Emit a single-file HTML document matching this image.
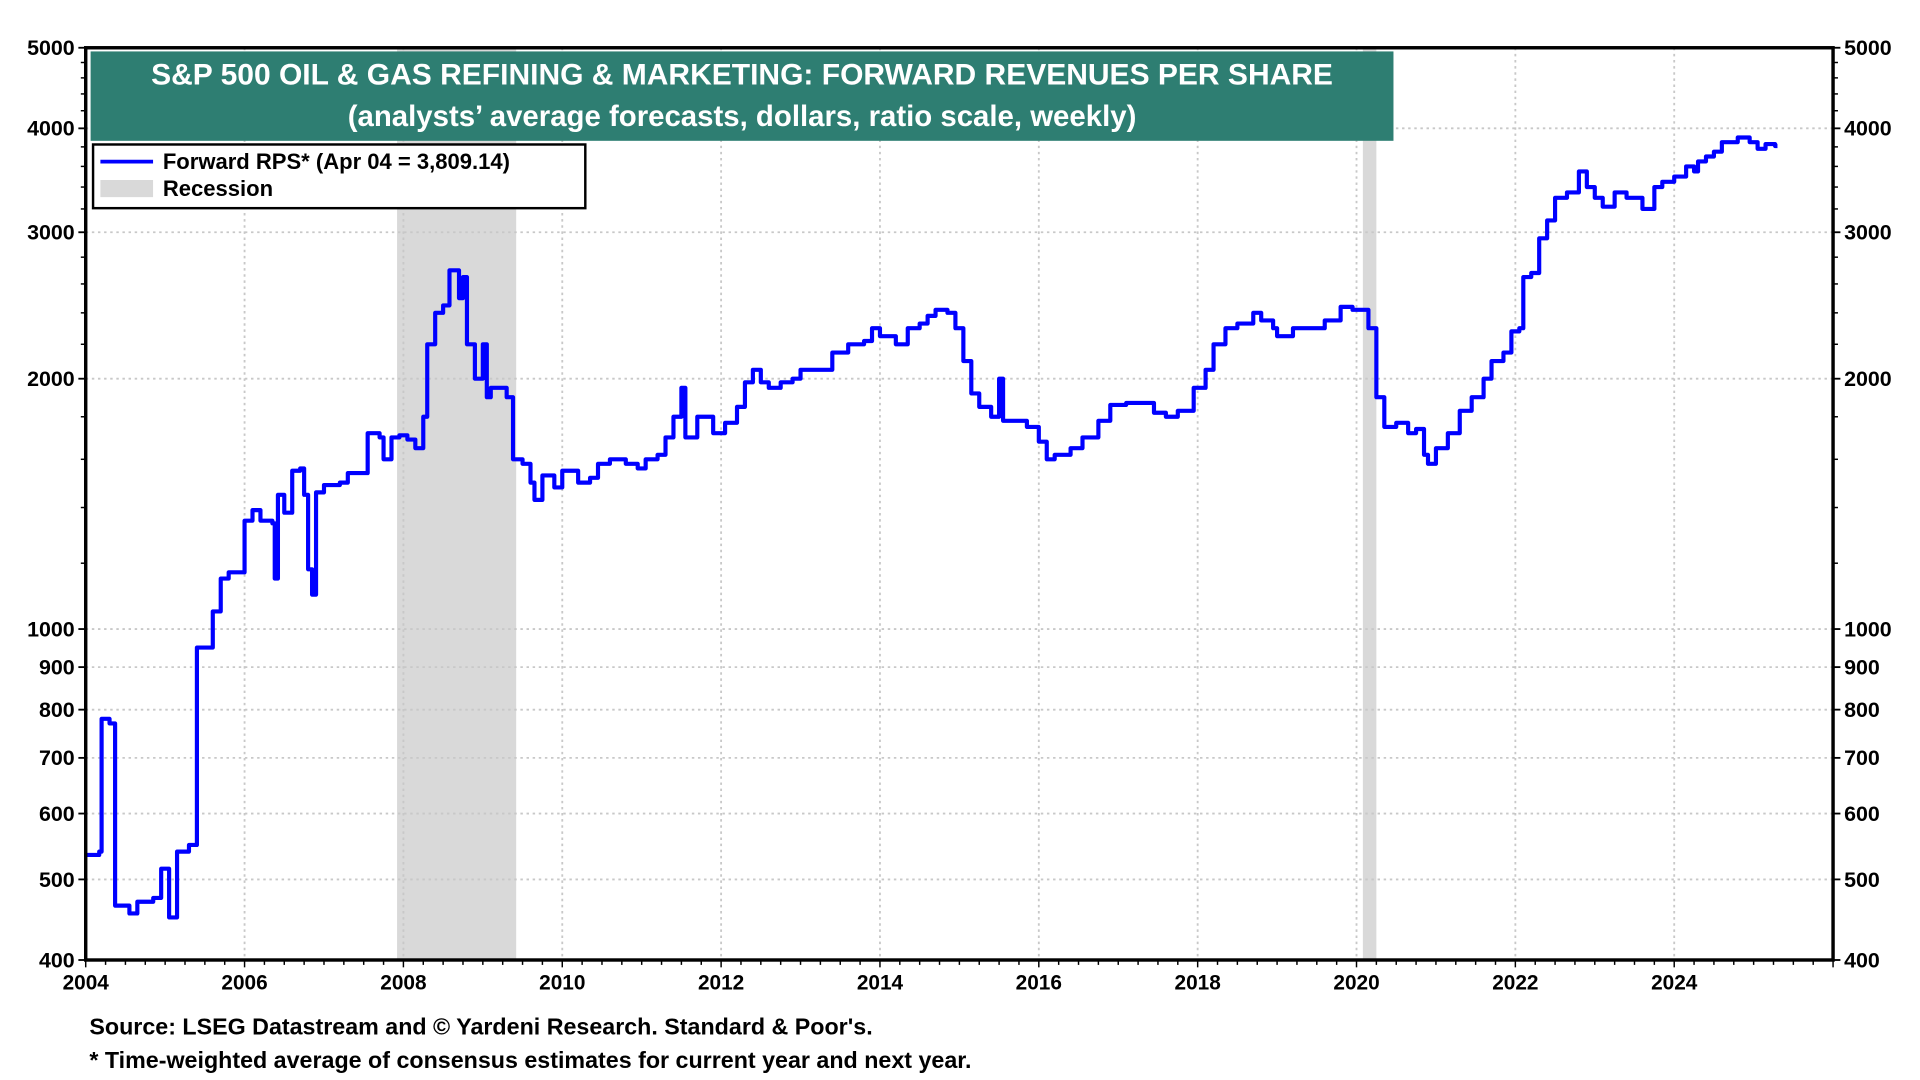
<!DOCTYPE html>
<html><head><meta charset="utf-8"><style>
html,body{margin:0;padding:0;background:#fff;}
svg{display:block;font-family:"Liberation Sans",Arial,sans-serif;font-weight:bold;}
</style></head><body>
<svg id="chart" width="1920" height="1080" viewBox="0 0 1568 882" xmlns="http://www.w3.org/2000/svg">
<g id="bg"></g>
<g id="grid"></g>
<g id="series"></g>
<g id="axes"></g>
<g>
<rect x="74" y="42" width="1064" height="73" fill="#2e7e72"/>
<text x="606" y="69" text-anchor="middle" fill="#fff" font-size="24.5">S&amp;P 500 OIL &amp; GAS REFINING &amp; MARKETING: FORWARD REVENUES PER SHARE</text>
<text x="606" y="103" text-anchor="middle" fill="#fff" font-size="24">(analysts’ average forecasts, dollars, ratio scale, weekly)</text>
</g>
<g>
<rect x="76" y="118" width="402" height="52" fill="#fff" stroke="#000" stroke-width="2"/>
<line x1="82" y1="132" x2="125" y2="132" stroke="#0000ff" stroke-width="3"/>
<text x="133" y="138" font-size="18">Forward RPS* (Apr 04 = 3,809.14)</text>
<rect x="82" y="147" width="43" height="14" fill="#d9d9d9"/>
<text x="133" y="160" font-size="18">Recession</text>
</g>
<text x="73" y="845" font-size="19">Source: LSEG Datastream and © Yardeni Research. Standard &amp; Poor's.</text>
<text x="73" y="872" font-size="19">* Time-weighted average of consensus estimates for current year and next year.</text>
</svg>
<script>
const dates=[2004.0,2004.17,2004.2,2004.3,2004.37,2004.55,2004.65,2004.85,2004.95,2005.05,2005.15,2005.3,2005.4,2005.6,2005.7,2005.8,2005.95,2006.0,2006.1,2006.2,2006.35,2006.38,2006.42,2006.5,2006.6,2006.7,2006.75,2006.8,2006.85,2006.9,2007.0,2007.2,2007.3,2007.5,2007.55,2007.7,2007.75,2007.85,2007.95,2008.05,2008.15,2008.25,2008.3,2008.4,2008.5,2008.58,2008.7,2008.75,2008.8,2008.9,2009.0,2009.05,2009.1,2009.3,2009.38,2009.5,2009.6,2009.65,2009.75,2009.9,2010.0,2010.2,2010.35,2010.45,2010.6,2010.8,2010.95,2011.05,2011.2,2011.3,2011.4,2011.5,2011.55,2011.7,2011.9,2012.05,2012.2,2012.3,2012.4,2012.5,2012.6,2012.75,2012.9,2013.0,2013.2,2013.4,2013.6,2013.8,2013.9,2014.0,2014.2,2014.35,2014.5,2014.6,2014.7,2014.85,2014.95,2015.05,2015.15,2015.25,2015.4,2015.5,2015.55,2015.7,2015.85,2016.0,2016.1,2016.2,2016.4,2016.55,2016.75,2016.9,2017.1,2017.35,2017.45,2017.6,2017.75,2017.95,2018.1,2018.2,2018.35,2018.5,2018.7,2018.8,2018.95,2019.0,2019.2,2019.4,2019.6,2019.8,2019.95,2020.1,2020.15,2020.25,2020.35,2020.5,2020.65,2020.75,2020.85,2020.9,2021.0,2021.15,2021.3,2021.45,2021.6,2021.7,2021.85,2021.95,2022.05,2022.1,2022.2,2022.3,2022.4,2022.5,2022.65,2022.8,2022.9,2023.0,2023.1,2023.25,2023.4,2023.55,2023.6,2023.75,2023.85,2024.0,2024.15,2024.25,2024.3,2024.4,2024.5,2024.6,2024.8,2024.95,2025.05,2025.15,2025.27];
const values=[535,540,780,770,465,455,470,475,515,450,540,550,950,1050,1150,1170,1170,1350,1390,1350,1340,1150,1450,1380,1550,1560,1450,1180,1100,1460,1490,1500,1540,1540,1720,1700,1600,1700,1710,1690,1650,1800,2200,2400,2450,2700,2500,2650,2200,2000,2200,1900,1950,1900,1600,1580,1500,1430,1530,1480,1550,1500,1520,1580,1600,1580,1560,1600,1620,1700,1800,1950,1700,1800,1720,1770,1850,1980,2050,1980,1950,1980,2000,2050,2050,2150,2200,2220,2300,2250,2200,2300,2330,2380,2420,2400,2300,2100,1920,1850,1800,2000,1780,1780,1750,1680,1600,1620,1650,1700,1780,1860,1870,1870,1820,1800,1830,1950,2050,2200,2300,2330,2400,2350,2300,2250,2300,2300,2350,2440,2420,2420,2300,1900,1750,1770,1720,1740,1620,1580,1650,1720,1830,1900,2000,2100,2150,2280,2300,2650,2680,2950,3100,3300,3350,3550,3400,3300,3220,3350,3300,3300,3200,3400,3450,3500,3600,3550,3650,3700,3750,3850,3900,3850,3780,3830,3809.14];
const recessions=[[2007.92,2009.42],[2020.08,2020.25]];
const yLabels=[5000,4000,3000,2000,1000,900,800,700,600,500,400];
const yMinor=[4800,4600,4400,4200,3800,3600,3400,3200,2800,2600,2400,2200,1800,1600,1400,1200];
const xLabels=[2004,2006,2008,2010,2012,2014,2016,2018,2020,2022,2024];
const L=70,R=1497,T=39,B=784,X0=2004,X1=2026,YMAX=5000,YMIN=400;
const NS="http://www.w3.org/2000/svg";
function xs(v){return L+(v-X0)/(X1-X0)*(R-L);}
function ys(v){return T+(Math.log10(YMAX)-Math.log10(v))/(Math.log10(YMAX)-Math.log10(YMIN))*(B-T);}
function mk(tag,attrs,parent){const e=document.createElementNS(NS,tag);for(const k in attrs)e.setAttribute(k,attrs[k]);document.getElementById(parent).appendChild(e);return e;}
recessions.forEach(r=>{
const e=mk('rect',{x:xs(r[0]),y:T,width:xs(r[1])-xs(r[0]),height:B-T,fill:'#d9d9d9'},'bg');


});
yLabels.forEach(v=>{if(v===YMAX||v===YMIN)return;
const e=mk('line',{x1:L,x2:R,y1:ys(v),y2:ys(v),stroke:'#c8c8c8','stroke-width':1.5,'stroke-dasharray':'2,3'},'grid');


});
xLabels.forEach(v=>{if(v===X0)return;
const e=mk('line',{x1:xs(v),x2:xs(v),y1:T,y2:B,stroke:'#c8c8c8','stroke-width':1.5,'stroke-dasharray':'2,3'},'grid');


});
let d='';
for(let i=0;i<dates.length;i++){
const x=xs(dates[i]),y=ys(values[i]);
if(i===0)d+='M'+x+' '+y;else d+='H'+x+'V'+y;
}
d+='H'+xs(2025.3);
const p=mk('path',{d:d,fill:'none',stroke:'#0000ff','stroke-width':3.4,'stroke-linejoin':'round'},'series');


const fr=mk('rect',{x:L,y:T,width:R-L,height:B-T,fill:'none',stroke:'#000','stroke-width':2.8},'axes');


yLabels.forEach(v=>{
[[L,'end',L-9,L-6],[R,'start',R+9,R+6]].forEach(s=>{
mk('line',{x1:s[0],x2:s[3],y1:ys(v),y2:ys(v),stroke:'#000','stroke-width':1.5},'axes');
const t=mk('text',{x:s[2],y:ys(v)+6,'text-anchor':s[1],'font-size':17.5},'axes');
t.textContent=v;


});
});
yMinor.forEach(v=>{
mk('line',{x1:L-4,x2:L,y1:ys(v),y2:ys(v),stroke:'#000','stroke-width':1.2},'axes');
mk('line',{x1:R,x2:R+4,y1:ys(v),y2:ys(v),stroke:'#000','stroke-width':1.2},'axes');
});
for(let q=X0;q<=X1;q+=0.25){
const big=Math.abs(q-Math.round(q))<1e-6 && Math.round(q)%2===0;
mk('line',{x1:xs(q),x2:xs(q),y1:B,y2:B+(big?6:4),stroke:'#000','stroke-width':1.2},'axes');
}
xLabels.forEach(v=>{
const t=mk('text',{x:xs(v),y:B+24,'text-anchor':'middle','font-size':17},'axes');
t.textContent=v;


});
</script>
</body></html>
